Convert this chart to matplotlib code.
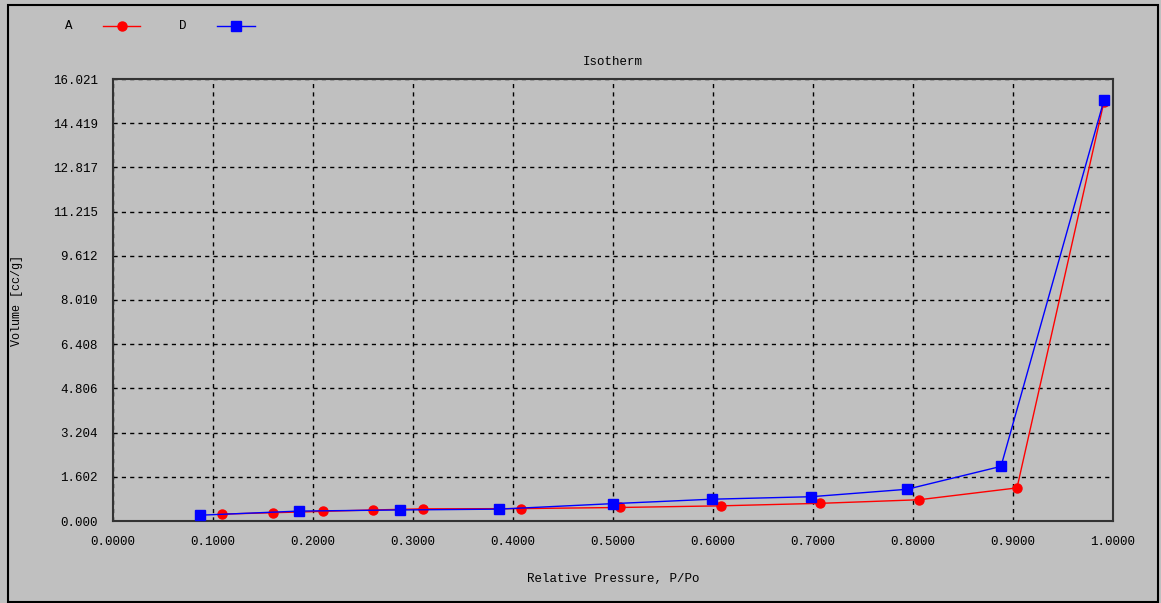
import numpy as np
import matplotlib.pyplot as plt
from matplotlib.patches import Rectangle
from matplotlib.lines import Line2D

# series A (red circles)
a_x = [0.109, 0.160, 0.210, 0.260, 0.310, 0.408, 0.507, 0.608, 0.707, 0.806, 0.904, 0.991]
a_y = [0.25, 0.30, 0.35, 0.40, 0.44, 0.45, 0.49, 0.55, 0.64, 0.77, 1.20, 15.20]

# series D (blue squares)
d_x = [0.087, 0.186, 0.287, 0.386, 0.500, 0.599, 0.698, 0.794, 0.888, 0.991]
d_y = [0.21, 0.36, 0.40, 0.43, 0.63, 0.79, 0.88, 1.15, 1.98, 15.26]

y_max = 16.021
y_labels = ['0.000', '1.602', '3.204', '4.806', '6.408', '8.010',
            '9.612', '11.215', '12.817', '14.419', '16.021']
x_labels = ['0.0000', '0.1000', '0.2000', '0.3000', '0.4000', '0.5000',
            '0.6000', '0.7000', '0.8000', '0.9000', '1.0000']

bg = '#c0c0c0'
mono = 'Liberation Mono'
fs = 9

W, H = 1161, 603
fig = plt.figure(figsize=(W / 100, H / 100), dpi=100, facecolor=bg)
fig.patches.append(Rectangle((8 / W, 1 - 602 / H), 1150 / W, 597 / H, transform=fig.transFigure,
                             fill=False, edgecolor='black', linewidth=1.5))

ax = fig.add_axes([113 / W, 1 - 521 / H, 1000 / W, 442 / H])
ax.set_facecolor(bg)
ax.plot(a_x, a_y, color='#ff0000', lw=1, marker='o', ms=6.5, mec='#ff0000', mfc='#ff0000', zorder=3)
ax.plot(d_x, d_y, color='#0000ff', lw=1, marker='s', ms=7.5, mec='#0000ff', mfc='#0000ff', zorder=4)

ax.set_xlim(0, 1)
ax.set_ylim(0, y_max)
ax.set_xticks([k / 10 for k in range(11)])
ax.set_yticks([y_max * k / 10 for k in range(11)])
ax.set_xticklabels(x_labels, family=mono, fontsize=fs)
ax.set_yticklabels(y_labels, family=mono, fontsize=fs)
ax.tick_params(length=0, pad=11)
ax.grid(True, color='black', linestyle=(0, (3, 3)), linewidth=1)
for s in ax.spines.values():
    s.set_color('#333333')
    s.set_linewidth(1.5)

ax.set_xlabel('Relative Pressure, P/Po', family=mono, fontsize=fs, labelpad=18)
ax.set_ylabel('Volume [cc/g]', family=mono, fontsize=8.5)
ax.yaxis.set_label_coords(-0.090, 0.5)
ax.set_title('Isotherm', family=mono, fontsize=fs, pad=10)

# legend row at top
fig.text(69 / W, 1 - 26 / H, 'A', family=mono, fontsize=fs, ha='center', va='center')
fig.text(183 / W, 1 - 26 / H, 'D', family=mono, fontsize=fs, ha='center', va='center')
fig.lines.append(Line2D([103 / W, 140 / W], [1 - 26 / H] * 2, transform=fig.transFigure,
                        color='#ff0000', lw=1))
fig.lines.append(Line2D([122 / W], [1 - 26 / H], transform=fig.transFigure,
                        color='#ff0000', marker='o', ms=6.5))
fig.lines.append(Line2D([217 / W, 255 / W], [1 - 26 / H] * 2, transform=fig.transFigure,
                        color='#0000ff', lw=1))
fig.lines.append(Line2D([236 / W], [1 - 26 / H], transform=fig.transFigure,
                        color='#0000ff', marker='s', ms=7.5))

fig.savefig('out.png', dpi=100, facecolor=bg)
